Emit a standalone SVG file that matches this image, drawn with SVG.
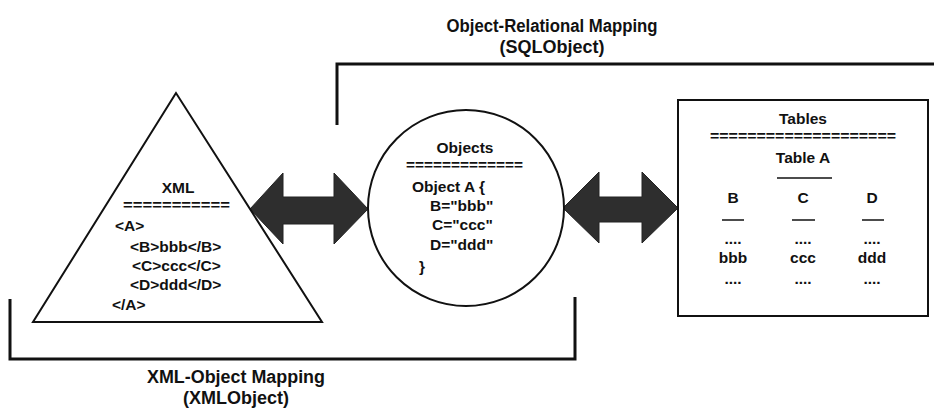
<svg xmlns="http://www.w3.org/2000/svg" width="934" height="411" viewBox="0 0 934 411">
<style>
text{font-family:"Liberation Sans",Arial,sans-serif;font-weight:bold;fill:#111}
.t{font-size:18px;text-anchor:middle}
.n{font-size:15.5px}
.c{text-anchor:middle}
.shape{fill:#fff;stroke:#111;stroke-width:2}
.br{fill:none;stroke:#111;stroke-width:3}
.arr{fill:#2e2e2e;stroke:#222;stroke-width:1}
</style>
<rect width="934" height="411" fill="#fff"/>
<g id="connectors">
<path class="br" d="M337,125 V64 H934"/>
<path class="br" d="M10,299 V359 H575 V297"/>
<path class="arr" d="M250,209 L283,173 L283,197 L334,197 L334,173 L368,209 L334,244 L334,224 L283,224 L283,244 Z"/>
<path class="arr" d="M563,208 L599,172 L599,197 L642,197 L642,172 L678,208 L642,243 L642,222 L599,222 L599,243 Z"/>
</g>
<g id="xml">
<polygon class="shape" points="176,93 33,322 322,322"/>
<text class="n c" x="178" y="193">XML</text>
<text class="n" x="123" y="210" textLength="107" lengthAdjust="spacingAndGlyphs">===========</text>
<text class="n" x="115" y="231">&lt;A&gt;</text>
<text class="n" x="130" y="252">&lt;B&gt;bbb&lt;/B&gt;</text>
<text class="n" x="132" y="271">&lt;C&gt;ccc&lt;/C&gt;</text>
<text class="n" x="130" y="290">&lt;D&gt;ddd&lt;/D&gt;</text>
<text class="n" x="112" y="310">&lt;/A&gt;</text>
</g>
<g id="objects">
<circle class="shape" cx="466" cy="208" r="98"/>
<text class="n c" x="465" y="153">Objects</text>
<text class="n" x="406" y="170" textLength="117" lengthAdjust="spacingAndGlyphs">=============</text>
<text class="n" x="412" y="192">Object A {</text>
<text class="n" x="430" y="211">B="bbb"</text>
<text class="n" x="432" y="230">C="ccc"</text>
<text class="n" x="430" y="250">D="ddd"</text>
<text class="n" x="419" y="272">}</text>
</g>
<g id="tables">
<rect class="shape" x="678" y="100" width="250" height="216"/>
<text class="n c" x="803" y="124">Tables</text>
<text class="n" x="710" y="141" textLength="186" lengthAdjust="spacingAndGlyphs">====================</text>
<text class="n c" x="803" y="163">Table A</text>
<line x1="777" y1="178" x2="832" y2="178" stroke="#111" stroke-width="1.5"/>
<text class="n c" x="733" y="203">B</text>
<text class="n c" x="803" y="203">C</text>
<text class="n c" x="872" y="203">D</text>
<line x1="722" y1="220" x2="744" y2="220" stroke="#111" stroke-width="1.5"/>
<line x1="792" y1="220" x2="815" y2="220" stroke="#111" stroke-width="1.5"/>
<line x1="862" y1="220" x2="884" y2="220" stroke="#111" stroke-width="1.5"/>
<text class="n c" x="733" y="244">....</text>
<text class="n c" x="803" y="244">....</text>
<text class="n c" x="872" y="244">....</text>
<text class="n c" x="733" y="263">bbb</text>
<text class="n c" x="803" y="263">ccc</text>
<text class="n c" x="872" y="263">ddd</text>
<text class="n c" x="733" y="284">....</text>
<text class="n c" x="803" y="284">....</text>
<text class="n c" x="872" y="284">....</text>
</g>
<g id="orm-label">
<text class="t" x="552" y="32" textLength="211" lengthAdjust="spacingAndGlyphs">Object-Relational Mapping</text>
<text class="t" x="552" y="53">(SQLObject)</text>
</g>
<g id="xom-label">
<text class="t" x="236" y="383" textLength="178" lengthAdjust="spacingAndGlyphs">XML-Object Mapping</text>
<text class="t" x="236" y="404">(XMLObject)</text>
</g>
</svg>
